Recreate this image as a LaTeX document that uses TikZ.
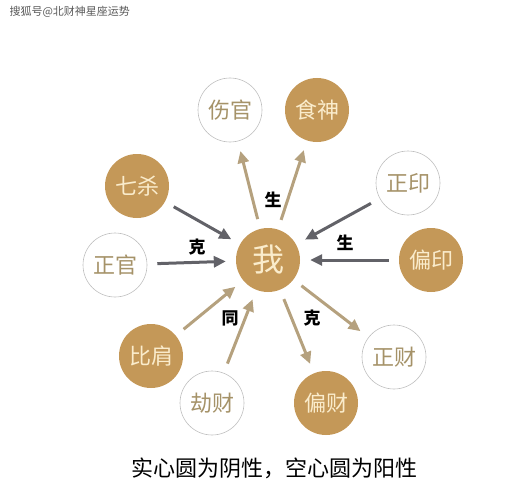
\documentclass[tikz,border=0pt]{standalone}
\usepackage{fontspec}
\newfontfamily\cjk{Noto Sans CJK SC}
\usetikzlibrary{arrows.meta}

\definecolor{gold}{RGB}{196,152,88}
\definecolor{cream}{RGB}{250,236,204}
\definecolor{ring}{RGB}{190,190,190}
\definecolor{olive}{RGB}{165,146,104}
\definecolor{tanline}{RGB}{181,161,126}
\definecolor{grayline}{RGB}{98,98,104}

\begin{document}
\begin{tikzpicture}[
            x=1pt, y=-1pt,
            yin/.style = {
                circle, minimum size=64pt, inner sep=0pt,
                fill=gold, text=cream,
                font=\cjk\fontsize{22}{24}\selectfont
            },
            yang/.style = {
                circle, minimum size=64pt, inner sep=0pt,
                draw=ring, line width=0.6pt, text=olive,
                font=\cjk\fontsize{22}{24}\selectfont
            },
            word/.style = {
                font=\cjk\bfseries\fontsize{17}{18}\selectfont
            },
            tanarrow/.style = {
                line width=3pt, draw=tanline,
                -{Triangle[length=12pt,width=11pt]},
                shorten <=\arrgap, shorten >=\arrgap
            },
            grayarrow/.style = {
                line width=3pt, draw=grayline,
                -{Triangle[length=12pt,width=11pt]},
                shorten <=\arrgap, shorten >=\arrgap
            }
            ]
            \useasboundingbox (0,0) rectangle (532,500);

            % Nodes
            \node[yin, font=\cjk\fontsize{32}{34}\selectfont] (me) at (268,260) {我};
            \node[yang] (shangguan) at (230,110) {伤官};
            \node[yin]  (shishen)   at (317,110) {食神};
            \node[yin]  (qisha)     at (137,186) {七杀};
            \node[yang] (zhengguan) at (115,265) {正官};
            \node[yang] (zhengyin)  at (408,183) {正印};
            \node[yin]  (pianyin)   at (431,260) {偏印};
            \node[yin]  (bijian)    at (151,356) {比肩};
            \node[yang] (jiecai)    at (212,403) {劫财};
            \node[yang] (zhengcai)  at (394,357) {正财};
            \node[yin]  (piancai)   at (326,403) {偏财};

            \newcommand{\arrgap}{10pt}

            % Arrows
            \draw[tanarrow]  (me) -- (shangguan);
            \draw[tanarrow]  (me) -- (shishen);
            \draw[grayarrow] (qisha) -- (me);
            \draw[grayarrow] (zhengguan) -- (me);
            \draw[grayarrow] (zhengyin) -- (me);
            \draw[grayarrow] (pianyin) -- (me);
            \draw[tanarrow]  (bijian) -- (me);
            \draw[tanarrow]  (jiecai) -- (me);
            \draw[tanarrow]  (me) -- (zhengcai);
            \draw[tanarrow]  (me) -- (piancai);

            % Labels
            \node[word] (sheng)  at (273,200) {生};
            \node[word] (ke)     at (197,247) {克};
            \node[word] (shengb) at (345,243) {生};
            \node[word] (tong)   at (230,318) {同};
            \node[word] (keb)    at (312,318) {克};

            \node[anchor=west, text=black!65, font=\cjk\fontsize{11}{12}\selectfont] (mark) at (6,12) {搜狐号@北财神星座运势};
            \node[font=\cjk\fontsize{22}{24}\selectfont] (note) at (274,468) {实心圆为阴性，空心圆为阳性};
        \end{tikzpicture}
\end{document}
